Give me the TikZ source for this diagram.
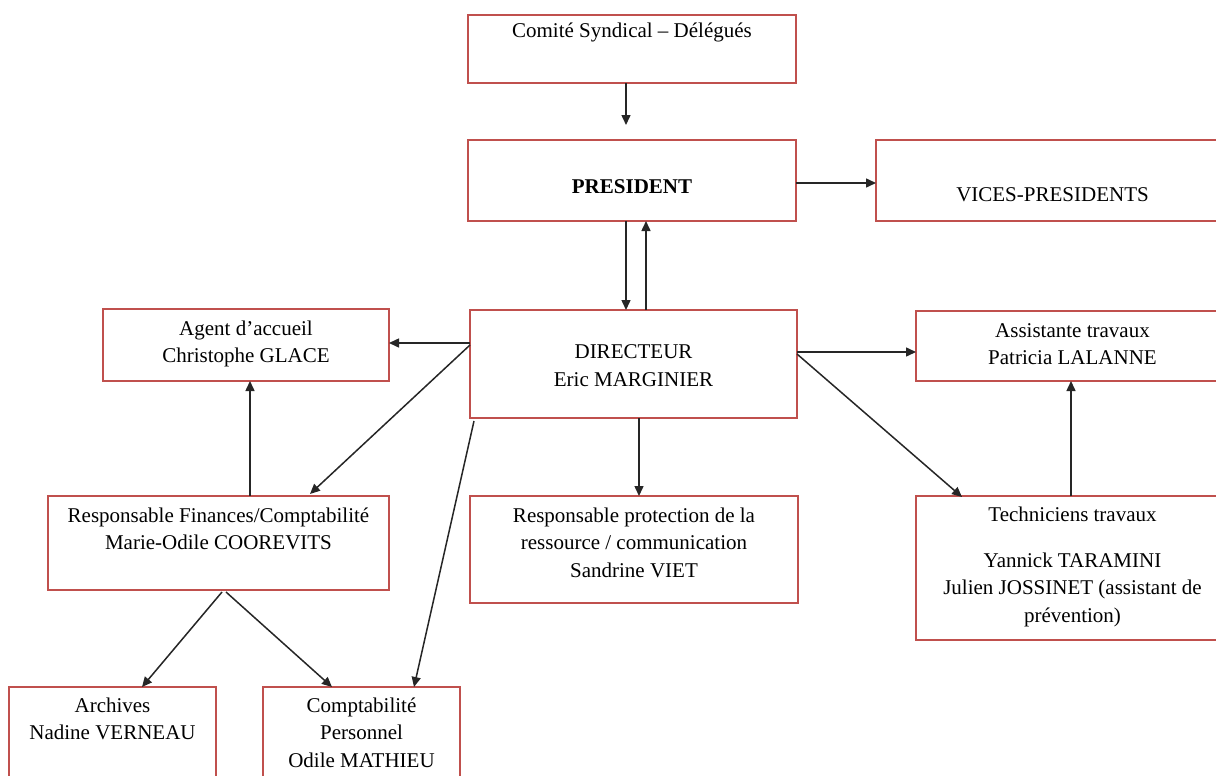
\documentclass[tikz,border=0pt]{standalone}
\usepackage{fontspec}
\setmainfont{Liberation Serif}
\usetikzlibrary{arrows.meta,calc}
\definecolor{boxred}{RGB}{192,80,77}
\tikzset{
  box/.style={draw=boxred, line width=1.4pt, inner sep=0pt, outer sep=0pt, anchor=north west},
  txt/.style={align=center, inner sep=0pt, font=\fontsize{21}{27.5}\selectfont, anchor=north},
  arr/.style={-{Triangle[length=10pt,width=9pt]}, line width=1.5pt, black!85},
}
\begin{document}
\begin{tikzpicture}[x=1pt,y=-1pt]
\useasboundingbox (0,0) rectangle (1216,776);
\clip (0,0) rectangle (1216,776);
% boxes
\node[box, minimum width=328, minimum height=68]  (comite)    at (468,15)  {};
\node[box, minimum width=328, minimum height=81]  (president) at (468,140) {};
\node[box, minimum width=353, minimum height=81]  (vices)     at (876,140) {};
\node[box, minimum width=286, minimum height=72]  (agent)     at (103,309) {};
\node[box, minimum width=327, minimum height=108] (director)  at (470,310) {};
\node[box, minimum width=313, minimum height=70]  (assist)    at (916,311) {};
\node[box, minimum width=341, minimum height=94]  (resfin)    at (48,496)  {};
\node[box, minimum width=328, minimum height=107] (prot)      at (470,496) {};
\node[box, minimum width=313, minimum height=144] (tech)      at (916,496) {};
\node[box, minimum width=207, minimum height=120] (archives)  at (9,687)   {};
\node[box, minimum width=197, minimum height=120] (comptab)   at (263,687) {};
% texts
\node[txt] (tcomite) at ([yshift=-2.75pt]comite.north) {\strut Comité Syndical – Délégués};
\node[txt] (tpres) at ([yshift=-33.75pt]president.north) {\strut\textbf{PRESIDENT}};
\node[txt] (tvices) at ([yshift=-41.75pt]vices.north) {\strut VICES-PRESIDENTS};
\node[txt] (tdir) at ([yshift=-28.75pt]director.north) {\strut DIRECTEUR\\[1pt]Eric MARGINIER};
\node[txt] (tagent) at ([yshift=-6.75pt]agent.north) {\strut Agent d’accueil\\Christophe GLACE};
\node[txt] (tassist) at ([yshift=-6.75pt]assist.north) {\strut Assistante travaux\\Patricia LALANNE};
\node[txt] (tresfin) at ([yshift=-6.75pt]resfin.north) {\strut Responsable Finances/Comptabilité\\Marie-Odile COOREVITS};
\node[txt] (tprot) at ([yshift=-6.75pt]prot.north) {\strut Responsable protection de la\\ressource / communication\\Sandrine VIET};
\node[txt] (ttech) at ([yshift=-5.75pt]tech.north) {\strut Techniciens travaux\\[18.5pt]Yannick TARAMINI\\Julien JOSSINET (assistant de\\prévention)};
\node[txt] (tarch) at ([yshift=-5.75pt]archives.north) {\strut Archives\\Nadine VERNEAU};
\node[txt] (tcompt) at ([yshift=-5.75pt]comptab.north) {\strut Comptabilité\\Personnel\\Odile MATHIEU};
% connectors
\draw[arr] ([xshift=-6pt]comite.south) -- ([xshift=-6pt,yshift=15pt]president.north);
\draw[arr] ([yshift=-2.5pt]president.east) -- ([yshift=-2.5pt]vices.west);
\draw[arr] ([xshift=-6pt]president.south) -- ([xshift=-7.5pt]director.north);
\draw[arr] ([xshift=12.5pt]director.north) -- ([xshift=14pt]president.south);
\draw[arr] ([yshift=21pt]director.west) -- ([yshift=21pt]director.west -| agent.east);
\draw[arr] ([yshift=12pt]director.east) -- ([yshift=12pt]director.east -| assist.west);
\draw[arr] ([yshift=10pt]director.east) -- ([xshift=46pt,yshift=-1pt]tech.north west);
\draw[arr] ([yshift=19pt]director.west) -- ([xshift=91.5pt,yshift=2pt]resfin.north);
\draw[arr] ([xshift=4pt,yshift=-3pt]director.south west) -- ([xshift=52.5pt]comptab.north);
\draw[arr] ([xshift=5.5pt]director.south) -- ([xshift=5pt]prot.north);
\draw[arr] ([xshift=31.5pt]resfin.north) -- ([xshift=31.5pt]resfin.north |- agent.south);
\draw[arr] ([xshift=-1.5pt]tech.north) -- ([xshift=-1.5pt]assist.south);
\draw[arr] ([xshift=3.5pt,yshift=-2pt]resfin.south) -- ([xshift=29.5pt]archives.north);
\draw[arr] ([xshift=7.5pt,yshift=-2pt]resfin.south) -- ([xshift=-29.5pt]comptab.north);
\end{tikzpicture}
\end{document}
